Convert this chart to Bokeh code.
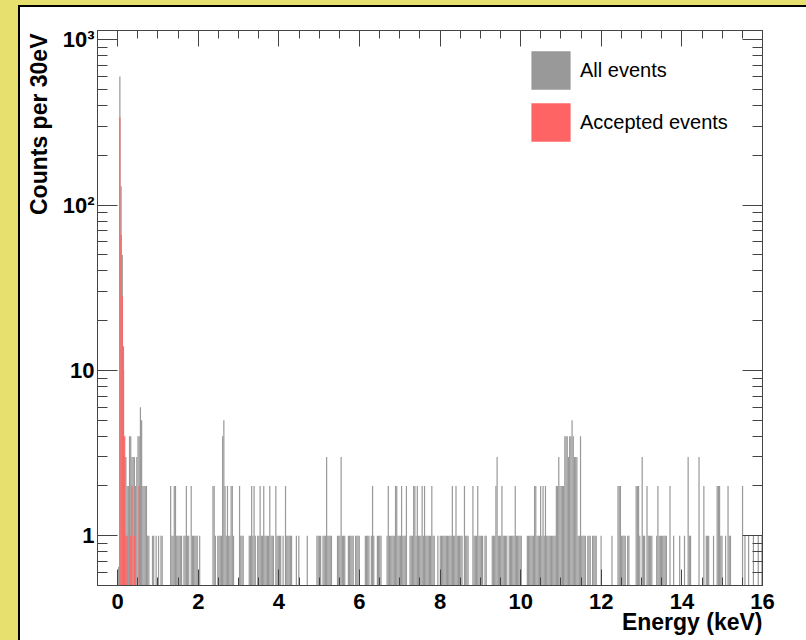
import math
from bokeh.plotting import figure
from bokeh.models import (ColumnDataSource, FixedTicker, CustomJSTickFormatter, LogAxis,
                          LinearAxis, Legend, LegendItem, Range1d, Div, Title)
from bokeh.layouts import row, column
from bokeh.embed import file_html
from bokeh.resources import INLINE

# ---------------- data ----------------
X_MIN, X_MAX = -0.5, 16.0          # keV
BIN_WIDTH = 0.03                   # keV (30 eV bins)
Y_MIN, Y_MAX = 0.5, 1140.0

# "All events" histogram: bin index (from X_MIN) and counts
all_bins = [
    17, 18, 19, 20, 21, 22, 23, 24, 25, 26, 27, 28, 29, 30, 31, 32, 33, 34, 35, 36, 37, 38, 39, 40, 41, 42,
    45, 46, 48, 50, 52, 53, 60, 61, 62, 63, 64, 65, 66, 67, 68, 69, 71, 72, 73, 74, 75, 77, 78, 79, 80, 81, 82, 84,
    95, 96, 97, 99, 100, 101, 102, 103, 104, 105, 106, 107, 108, 109, 110, 111, 112, 117, 118, 119, 120,
    125, 126, 127, 128, 129, 130, 132, 133, 134, 135, 136, 137, 138, 139, 140, 141, 142, 143, 144, 145, 147, 148,
    149, 150, 151, 153, 155, 156, 157, 158, 159, 160,
    164, 166, 173, 181, 182, 183, 184, 186, 187, 188, 189, 190, 191, 192, 193, 198, 199, 200, 201, 202, 203, 204,
    207, 208, 209, 210, 211, 213, 214, 215, 216, 221, 222, 223, 224, 226, 227, 228, 231, 232, 233, 234,
    239, 240, 241, 242, 243, 244, 245, 246, 247, 248, 249, 250, 251, 252, 253, 254, 255, 258, 259, 260, 261, 262, 263, 264,
    265, 266, 267, 268, 269, 270, 271, 272, 273, 274, 275, 276, 277, 278, 281, 283, 284, 285, 286, 287, 288, 289, 290,
    291, 292, 293, 294, 295,
    296, 297, 298, 299, 300, 301, 303, 304, 305, 306, 310, 311, 312, 313, 314, 315, 316, 317, 318, 320, 321,
    326, 327, 328, 329, 330, 331, 332, 333, 334, 335, 336, 337, 338, 340, 341, 342, 343, 344, 345, 346, 347, 348, 349, 350,
    355, 356, 357, 358, 359, 360, 361, 362, 363, 364, 365, 366, 367, 368, 369, 370, 371, 372, 373, 374, 375, 376, 377, 378, 379,
    380, 381, 382, 383, 384, 385, 386, 387, 388, 389, 390, 391, 392, 393, 394, 395, 396, 397, 398, 399, 400, 401, 402, 403,
    405, 406, 407, 409, 410, 411, 412, 416, 425,
    430, 431, 432, 433, 434, 435, 436, 438, 439, 445, 446, 447, 448, 450, 451, 452, 454, 455, 456, 457, 458,
    462, 463, 464, 465, 466, 467, 468, 469, 470, 473, 476, 481, 485, 488, 489, 490, 497, 501, 503, 504, 505, 509,
    512, 513, 514, 515, 516, 519, 521, 522, 523, 533, 535, 538, 542, 546, 549,
]
all_counts = [
    0.65, 600, 130, 50, 14, 3, 3, 2, 2, 4, 4, 3, 3, 3, 2, 3, 4, 4, 6, 5, 2, 2, 2, 2, 1, 1,
    1, 1, 1, 1, 1, 1, 2, 1, 1, 2, 2, 1, 1, 1, 1, 1, 1, 1, 2, 1, 1, 2, 1, 1, 1, 1, 1, 1,
    2, 2, 1, 1, 1, 1, 1, 4, 5, 2, 1, 2, 1, 1, 2, 2, 1, 2, 1, 1, 1,
    1, 1, 2, 1, 2, 1, 1, 1, 2, 1, 1, 2, 1, 1, 1, 1, 2, 1, 1, 1, 2, 1,
    1, 1, 1, 1, 2, 1, 1, 1, 1, 1,
    1, 1, 1, 1, 1, 1, 1, 1, 1, 1, 3, 1, 1, 1, 1, 1, 1, 1, 3, 1, 1, 1,
    1, 1, 1, 1, 1, 1, 1, 1, 1, 1, 1, 1, 1, 1, 2, 1, 1, 1, 1, 1,
    1, 2, 1, 1, 1, 1, 1, 2, 2, 1, 1, 1, 2, 1, 1, 1, 2, 1, 1, 1, 2, 2, 1, 2,
    1, 1, 1, 2, 1, 2, 1, 1, 1, 1, 1, 2, 1, 1, 1, 1, 1, 1, 1, 1, 1, 1, 1,
    1, 1, 2, 1, 1,
    2, 1, 1, 1, 1, 1, 2, 1, 1, 1, 2, 1, 1, 1, 2, 1, 1, 1, 1, 1, 1,
    1, 1, 1, 2, 3, 1, 1, 1, 2, 1, 1, 1, 1, 1, 1, 1, 1, 1, 2, 1, 1, 1, 1, 1,
    1, 1, 1, 1, 1, 1, 2, 2, 1, 1, 1, 2, 1, 2, 1, 2, 1, 1, 1, 1, 1, 1, 1, 1, 2,
    2, 3, 2, 2, 2, 2, 4, 4, 4, 3, 4, 4, 5, 4, 3, 3, 3, 1, 1, 4, 1, 1, 1, 1,
    1, 1, 1, 1, 1, 1, 1, 1, 1,
    2, 2, 2, 1, 1, 1, 1, 1, 1, 2, 2, 2, 1, 3, 1, 1, 2, 1, 1, 1, 1,
    1, 2, 1, 1, 1, 1, 1, 1, 1, 2, 1, 1, 1, 3, 1, 1, 3, 2, 1, 1, 1, 1,
    2, 2, 2, 1, 1, 1, 2, 1, 1, 2, 1, 1, 1, 1, 1,
]

# "Accepted events" histogram
acc_bins = [18, 19, 20, 21, 22, 23, 24, 27, 28, 30, 34]
acc_counts = [340, 66, 28, 10, 4, 1, 1, 1, 2, 1, 2]

x_ticks = [0, 2, 4, 6, 8, 10, 12, 14, 16]
x_minor_ticks = [-0.5 + 0.5 * i for i in range(34)]
y_ticks = [1, 10, 100, 1000]
y_tick_labels = ["1", "10", "10\u00b2", "10\u00b3"]
y_minor_ticks = [0.6, 0.7, 0.8, 0.9] + [m * 10 ** e for e in range(3) for m in range(2, 10)]

legend_labels = ["All events", "Accepted events"]
x_title = "Energy (keV)"
y_title = "Counts per 30eV"

# ---------------- style / layout ----------------
YELLOW = "#e7e06e"
GRAY = "#999999"
RED = "#ff6464"
AXIS = "#444444"
FONT = "Liberation Sans"

W, H = 806, 640
PAD_X, PAD_Y = 18, 5          # yellow canvas border (left / top)
LINE = 2                      # black pad border
PW, PH = W - PAD_X - LINE, H - PAD_Y - LINE
OFF_X, OFF_Y = PAD_X + LINE, PAD_Y + LINE
# frame edges in page pixels
FRAME_L, FRAME_R, FRAME_T, FRAME_B = 97, 762, 30, 585
MB_L, MB_R = FRAME_L - OFF_X, PW - (FRAME_R - OFF_X)
MB_T, MB_B = FRAME_T - OFF_Y, PH - (FRAME_B - OFF_Y)


def hist_source(bins, counts):
    left = [X_MIN + k * BIN_WIDTH for k in bins]
    right = [l + BIN_WIDTH for l in left]
    return ColumnDataSource(dict(left=left, right=right, top=list(counts)))


p = figure(width=PW, height=PH, y_axis_type="log",
           x_range=Range1d(X_MIN, X_MAX), y_range=Range1d(Y_MIN, Y_MAX),
           output_backend="svg", toolbar_location=None,
           min_border_left=MB_L, min_border_right=MB_R,
           min_border_top=MB_T, min_border_bottom=MB_B,
           background_fill_color="white", border_fill_color="white",
           outline_line_color=AXIS)
p.grid.visible = False

r_all = p.quad(left="left", right="right", top="top", bottom=0.1,
               source=hist_source(all_bins, all_counts),
               fill_color=GRAY, line_color=None)
r_acc = p.quad(left="left", right="right", top="top", bottom=0.1,
               source=hist_source(acc_bins, acc_counts),
               fill_color=RED, line_color=None)

x_ticker = FixedTicker(ticks=x_ticks, minor_ticks=x_minor_ticks)
y_ticker = FixedTicker(ticks=y_ticks, minor_ticks=y_minor_ticks)
blank = CustomJSTickFormatter(code="return ''")
y_fmt = CustomJSTickFormatter(args=dict(vals=y_ticks, labs=y_tick_labels), code="""
    for (let i = 0; i < vals.length; i++) {
        if (Math.abs(vals[i] - tick) < 1e-6 * vals[i]) { return labs[i]; }
    }
    return '';
""")


def style_axis(ax, major_in, minor_in):
    ax.major_tick_in = major_in
    ax.major_tick_out = 0
    ax.minor_tick_in = minor_in
    ax.minor_tick_out = 0
    ax.axis_line_color = AXIS
    ax.major_tick_line_color = AXIS
    ax.minor_tick_line_color = AXIS
    ax.major_label_text_font = FONT
    ax.major_label_text_font_style = "bold"
    ax.major_label_text_font_size = "22px"
    ax.major_label_text_color = "black"


xa = p.xaxis[0]
xa.ticker = x_ticker
style_axis(xa, 16, 8)
xa.major_label_standoff = 8

ya = p.yaxis[0]
ya.ticker = y_ticker
ya.formatter = y_fmt
style_axis(ya, 20, 10)
ya.major_label_standoff = 3

top_axis = LinearAxis(ticker=x_ticker, formatter=blank, major_label_standoff=0)
style_axis(top_axis, 16, 8)
p.add_layout(top_axis, "above")

right_axis = LogAxis(ticker=y_ticker, formatter=blank, major_label_standoff=0)
style_axis(right_axis, 20, 10)
p.add_layout(right_axis, "right")


# axis titles, ROOT style: flush with the right / upper end of the axis
def axis_title(text, standoff, offset, fallback_standoff, valign):
    t = Title(text=text, align="right", offset=offset, vertical_align=valign,
              text_font=FONT, text_font_style="bold", text_font_size="23px",
              text_color="black")
    try:
        t.standoff = standoff
    except Exception:
        t.standoff = fallback_standoff
    return t


p.add_layout(axis_title(x_title, -10, 0, 0, "bottom"), "below")
p.add_layout(axis_title(y_title, 11, 3, 11, "top"), "left")

GLYPH_W, GLYPH_H, SPACING = 49, 48, 4
leg_h = 2 * GLYPH_H + SPACING
leg_left_page, leg_top_page = 526, 46
legend = Legend(items=[LegendItem(label=legend_labels[0], renderers=[r_all]),
                       LegendItem(label=legend_labels[1], renderers=[r_acc])],
                location=(leg_left_page - FRAME_L, FRAME_B - leg_top_page - leg_h),
                orientation="vertical", glyph_width=GLYPH_W, glyph_height=GLYPH_H,
                spacing=SPACING, padding=0, margin=0, label_standoff=5,
                label_text_font=FONT, label_text_font_size="20px", label_text_color="black",
                border_line_color=None, background_fill_alpha=0)
p.add_layout(legend)


def block(w, h, color):
    return Div(text="", width=w, height=h, margin=0,
               styles={"background-color": color})


layout = row(
    block(PAD_X, H, YELLOW),
    column(
        block(W - PAD_X, PAD_Y, YELLOW),
        block(W - PAD_X, LINE, "black"),
        row(block(LINE, PH, "black"), p, spacing=0),
        spacing=0,
    ),
    spacing=0,
)

open("out.html", "w").write(file_html(layout, INLINE))
